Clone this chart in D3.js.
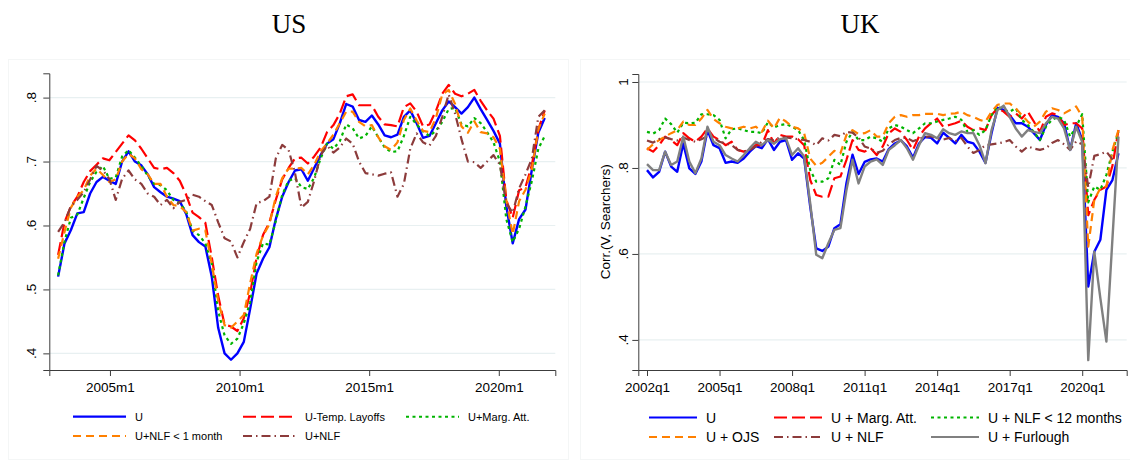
<!DOCTYPE html>
<html>
<head>
<meta charset="utf-8">
<script src="https://cdn.jsdelivr.net/npm/d3@7"></script>
<style>
  body { margin: 0; background: #fff; }
  text { font-family: "Liberation Sans", Arial, sans-serif; fill: #000; }
  .title { font-family: "Liberation Serif", "Times New Roman", serif; font-size: 27px; }
</style>
</head>
<body>
<svg id="chart" width="1130" height="469"></svg>
<script>
// ---- US panel: readings roughly every quarter, starting 2003m1 ----
var usStartYear = 2003;
var usStepYears = 0.247;

var usU = [0.52, 0.572, 0.593, 0.619, 0.621, 0.65, 0.668, 0.676, 0.67, 0.665,
  0.70, 0.716, 0.70, 0.694, 0.68, 0.66, 0.652, 0.645, 0.642, 0.638,
  0.618, 0.585, 0.574, 0.567, 0.52, 0.44, 0.40, 0.39, 0.40, 0.418,
  0.47, 0.525, 0.548, 0.566, 0.61, 0.645, 0.668, 0.686, 0.688, 0.67,
  0.69, 0.71, 0.728, 0.735, 0.76, 0.79, 0.786, 0.765, 0.762, 0.772,
  0.758, 0.741, 0.738, 0.742, 0.77, 0.78, 0.76, 0.737, 0.74, 0.76,
  0.78, 0.794, 0.785, 0.775, 0.785, 0.80, 0.782, 0.765, 0.748, 0.728,
  0.63, 0.572, 0.61, 0.625, 0.688, 0.745, 0.768];

var usTemp = [0.554, 0.605, 0.63, 0.645, 0.668, 0.685, 0.695, 0.705, 0.702, 0.715,
  0.728, 0.741, 0.733, 0.72, 0.705, 0.69, 0.688, 0.69, 0.682, 0.67,
  0.648, 0.62, 0.613, 0.604, 0.55, 0.49, 0.445, 0.442, 0.435, 0.455,
  0.495, 0.55, 0.585, 0.605, 0.64, 0.672, 0.69, 0.705, 0.706, 0.697,
  0.708, 0.722, 0.746, 0.757, 0.775, 0.802, 0.805, 0.788, 0.788, 0.788,
  0.77, 0.758, 0.757, 0.755, 0.785, 0.791, 0.778, 0.755, 0.758, 0.779,
  0.806, 0.82, 0.806, 0.802, 0.806, 0.812, 0.795, 0.78, 0.767, 0.74,
  0.64, 0.612, 0.655, 0.66, 0.695, 0.75, 0.78];

var usMarg = [0.522, 0.575, 0.612, 0.617, 0.643, 0.668, 0.684, 0.693, 0.673, 0.675,
  0.708, 0.718, 0.706, 0.693, 0.678, 0.665, 0.663, 0.655, 0.64, 0.635,
  0.622, 0.592, 0.585, 0.572, 0.54, 0.466, 0.428, 0.415, 0.423, 0.447,
  0.48, 0.543, 0.572, 0.57, 0.607, 0.648, 0.67, 0.674, 0.66, 0.657,
  0.675, 0.705, 0.728, 0.72, 0.732, 0.758, 0.752, 0.736, 0.74, 0.755,
  0.738, 0.722, 0.715, 0.716, 0.74, 0.77, 0.758, 0.747, 0.74, 0.748,
  0.762, 0.782, 0.784, 0.758, 0.755, 0.768, 0.76, 0.746, 0.73, 0.70,
  0.61, 0.574, 0.595, 0.63, 0.67, 0.72, 0.74];

var usNLF1 = [0.548, 0.59, 0.628, 0.645, 0.655, 0.678, 0.689, 0.679, 0.668, 0.672,
  0.70, 0.712, 0.705, 0.688, 0.68, 0.665, 0.665, 0.645, 0.632, 0.63,
  0.621, 0.592, 0.595, 0.592, 0.54, 0.482, 0.444, 0.44, 0.45, 0.46,
  0.51, 0.556, 0.584, 0.602, 0.645, 0.674, 0.689, 0.689, 0.69, 0.68,
  0.695, 0.716, 0.728, 0.742, 0.76, 0.778, 0.778, 0.762, 0.755, 0.757,
  0.738, 0.724, 0.718, 0.73, 0.765, 0.783, 0.764, 0.748, 0.746, 0.768,
  0.805, 0.812, 0.79, 0.755, 0.745, 0.763, 0.746, 0.744, 0.738, 0.72,
  0.64, 0.586, 0.638, 0.656, 0.688, 0.75, 0.775];

var usNLF = [0.59, 0.605, 0.63, 0.64, 0.652, 0.672, 0.693, 0.686, 0.673, 0.64,
  0.673, 0.686, 0.672, 0.665, 0.65, 0.645, 0.632, 0.64, 0.627, 0.637,
  0.64, 0.648, 0.645, 0.638, 0.632, 0.605, 0.58, 0.575, 0.55, 0.574,
  0.595, 0.635, 0.638, 0.645, 0.705, 0.726, 0.718, 0.682, 0.628, 0.637,
  0.67, 0.71, 0.725, 0.714, 0.722, 0.736, 0.728, 0.70, 0.682, 0.68,
  0.678, 0.681, 0.683, 0.645, 0.665, 0.72, 0.744, 0.73, 0.725, 0.74,
  0.77, 0.805, 0.775, 0.735, 0.70, 0.699, 0.69, 0.70, 0.71, 0.695,
  0.635, 0.62, 0.658, 0.68, 0.705, 0.77, 0.78];

var usTicksX = [2005, 2010, 2015, 2020];
var usTicksY = [0.4, 0.5, 0.6, 0.7, 0.8];
var usNames = ["U", "U-Temp. Layoffs", "U+Marg. Att.", "U+NLF < 1 month", "U+NLF"];

// ---- UK panel: quarterly, 2002q1 - 2021q3 ----
var ukStartYear = 2002;

var ukU = [0.795, 0.778, 0.791, 0.838, 0.803, 0.791, 0.857, 0.799, 0.786, 0.815,
  0.888, 0.853, 0.846, 0.812, 0.815, 0.812, 0.822, 0.838, 0.851, 0.846,
  0.867, 0.842, 0.861, 0.865, 0.819, 0.834, 0.822, 0.71, 0.613, 0.607,
  0.617, 0.66, 0.669, 0.765, 0.831, 0.786, 0.814, 0.82, 0.822, 0.815,
  0.844, 0.857, 0.864, 0.85, 0.824, 0.857, 0.872, 0.87, 0.857, 0.882,
  0.87, 0.857, 0.877, 0.861, 0.857, 0.838, 0.812, 0.881, 0.94, 0.935,
  0.923, 0.904, 0.904, 0.896, 0.881, 0.865, 0.9, 0.923, 0.919, 0.904,
  0.842, 0.904, 0.865, 0.524, 0.605, 0.633, 0.749, 0.772, 0.834];

var ukMarg = [0.846, 0.838, 0.853, 0.873, 0.865, 0.853, 0.881, 0.869, 0.861, 0.873,
  0.892, 0.873, 0.865, 0.853, 0.861, 0.842, 0.838, 0.842, 0.853, 0.853,
  0.888, 0.857, 0.877, 0.873, 0.873, 0.867, 0.853, 0.772, 0.737, 0.733,
  0.733, 0.776, 0.78, 0.819, 0.865, 0.842, 0.838, 0.846, 0.83, 0.85,
  0.881, 0.892, 0.884, 0.865, 0.842, 0.873, 0.892, 0.904, 0.915, 0.896,
  0.9, 0.904, 0.91, 0.896, 0.888, 0.892, 0.888, 0.923, 0.939, 0.931,
  0.919, 0.927, 0.915, 0.931, 0.908, 0.884, 0.919, 0.927, 0.923, 0.9,
  0.904, 0.904, 0.892, 0.69, 0.726, 0.749, 0.757, 0.805, 0.888];

var ukNLF12 = [0.884, 0.88, 0.888, 0.915, 0.902, 0.882, 0.905, 0.904, 0.905, 0.925,
  0.925, 0.923, 0.912, 0.869, 0.89, 0.892, 0.888, 0.884, 0.884, 0.881,
  0.906, 0.894, 0.9, 0.902, 0.896, 0.888, 0.865, 0.795, 0.768, 0.768,
  0.776, 0.819, 0.807, 0.861, 0.884, 0.865, 0.865, 0.873, 0.869, 0.861,
  0.892, 0.9, 0.896, 0.888, 0.881, 0.892, 0.904, 0.904, 0.908, 0.912,
  0.915, 0.919, 0.912, 0.884, 0.888, 0.877, 0.888, 0.923, 0.943, 0.935,
  0.931, 0.939, 0.912, 0.9, 0.884, 0.865, 0.896, 0.912, 0.919, 0.912,
  0.873, 0.896, 0.925, 0.72, 0.757, 0.749, 0.784, 0.838, 0.884];

var ukOJS = [0.842, 0.855, 0.865, 0.873, 0.881, 0.888, 0.908, 0.9, 0.9, 0.915,
  0.935, 0.914, 0.904, 0.896, 0.892, 0.892, 0.896, 0.892, 0.896, 0.884,
  0.91, 0.892, 0.917, 0.908, 0.896, 0.892, 0.881, 0.822, 0.805, 0.812,
  0.826, 0.84, 0.834, 0.877, 0.888, 0.879, 0.881, 0.888, 0.873, 0.873,
  0.904, 0.919, 0.923, 0.919, 0.923, 0.923, 0.926, 0.926, 0.926, 0.923,
  0.926, 0.927, 0.931, 0.923, 0.919, 0.912, 0.908, 0.931, 0.947, 0.95,
  0.95, 0.939, 0.923, 0.908, 0.896, 0.908, 0.931, 0.939, 0.935, 0.927,
  0.935, 0.943, 0.919, 0.617, 0.726, 0.753, 0.757, 0.842, 0.888];

var ukNLF = [0.864, 0.859, 0.867, 0.871, 0.867, 0.864, 0.871, 0.865, 0.861, 0.867,
  0.874, 0.871, 0.861, 0.857, 0.853, 0.842, 0.838, 0.842, 0.85, 0.861,
  0.867, 0.865, 0.871, 0.871, 0.869, 0.867, 0.865, 0.861, 0.853, 0.869,
  0.864, 0.877, 0.874, 0.884, 0.882, 0.871, 0.85, 0.845, 0.835, 0.84,
  0.855, 0.865, 0.87, 0.87, 0.862, 0.868, 0.872, 0.874, 0.868, 0.866,
  0.87, 0.862, 0.87, 0.85, 0.835, 0.842, 0.853, 0.855, 0.857, 0.86,
  0.865, 0.85, 0.838, 0.85, 0.845, 0.842, 0.846, 0.858, 0.865, 0.855,
  0.842, 0.862, 0.855, 0.755, 0.828, 0.832, 0.838, 0.82, 0.805];

var ukFurlough = [0.809, 0.795, 0.795, 0.838, 0.807, 0.815, 0.873, 0.815, 0.788, 0.822,
  0.896, 0.861, 0.853, 0.83, 0.822, 0.815, 0.83, 0.846, 0.861, 0.853,
  0.865, 0.857, 0.867, 0.869, 0.83, 0.846, 0.826, 0.718, 0.598, 0.59,
  0.625, 0.656, 0.66, 0.749, 0.819, 0.764, 0.803, 0.815, 0.82, 0.807,
  0.842, 0.853, 0.865, 0.846, 0.819, 0.853, 0.881, 0.877, 0.869, 0.89,
  0.881, 0.877, 0.885, 0.881, 0.881, 0.853, 0.811, 0.888, 0.935, 0.945,
  0.919, 0.892, 0.873, 0.888, 0.884, 0.881, 0.904, 0.919, 0.915, 0.892,
  0.842, 0.896, 0.86, 0.353, 0.605, 0.497, 0.396, 0.635, 0.873];

var ukTicksX = [2002, 2005, 2008, 2011, 2014, 2017, 2020];
var ukTicksY = [0.4, 0.6, 0.8, 1];
var ukNames = ["U", "U + Marg. Att.", "U + NLF < 12 months", "U + OJS", "U + NLF", "U + Furlough"];

//line styles
var styles = {
  solidBlue: { color: "#0000ff", dash: null, width: 2.4 },
  longRed:   { color: "#ff0000", dash: "13,5", width: 2.2 },
  dotGreen:  { color: "#00b400", dash: "3,3.5", width: 2.2 },
  dashOrange:{ color: "#ff8000", dash: "8,5", width: 2.2 },
  dashDot:   { color: "#8c3b3b", dash: "9,4,1.5,4", width: 2.2 },
  solidGray: { color: "#808080", dash: null, width: 2.4 }
};

var svg = d3.select("#chart");

function fmtTick(v) {
  return v === 1 ? "1" : String(v).replace("0.", ".");
}

function drawPanel(cfg) {
  var g = svg.append("g");

  //faint frame of the graph region
  g.append("rect")
    .attr("x", cfg.frame[0]).attr("y", cfg.frame[1])
    .attr("width", cfg.frame[2]).attr("height", cfg.frame[3])
    .attr("fill", "none").attr("stroke", "#f4f6f6").attr("stroke-width", 1);

  g.append("text").attr("class", "title")
    .attr("x", cfg.titleX).attr("y", 33)
    .attr("text-anchor", "middle")
    .text(cfg.title);

  var x = d3.scaleLinear().domain(cfg.xDomain).range([cfg.left, cfg.right]);
  var y = d3.scaleLinear().domain(cfg.yDomain).range([370, cfg.top]);

  // gridlines
  g.selectAll(".grid").data(cfg.yTicks).enter().append("line")
    .attr("x1", cfg.left).attr("x2", cfg.right)
    .attr("y1", function(d) { return y(d); })
    .attr("y2", function(d) { return y(d); })
    .attr("stroke", "#e8f0f1").attr("stroke-width", 1.2);

  // series
  var line = d3.line()
    .x(function(d) { return x(d[0]); })
    .y(function(d) { return y(d[1]); });

  cfg.series.forEach(function(s) {
    var pts = s.values.map(function(v, i) { return [cfg.date(i), v]; });
    g.append("path")
      .datum(pts)
      .attr("d", line)
      .attr("fill", "none")
      .attr("stroke", s.style.color)
      .attr("stroke-width", s.style.width)
      .attr("stroke-dasharray", s.style.dash)
      .attr("stroke-linejoin", "round");
  });

  // axes
  var xAxis = d3.axisBottom(x).tickValues(cfg.xTicks).tickSize(6).tickPadding(6)
    .tickFormat(cfg.xFormat);
  var gx = g.append("g").attr("transform", "translate(0,370)").call(xAxis);
  gx.select(".domain").attr("stroke", "#3c3c3c");
  gx.selectAll(".tick line").attr("stroke", "#3c3c3c");
  gx.selectAll("text").style("font-size", "13.5px")
    .style("font-family", "'Liberation Sans', Arial, sans-serif").attr("fill", "#000");

  var yAxis = d3.axisLeft(y).tickValues(cfg.yTicks).tickSize(6).tickFormat("");
  var gy = g.append("g").attr("transform", "translate(" + cfg.left + ",0)").call(yAxis);
  gy.select(".domain").attr("stroke", "#3c3c3c");
  gy.selectAll(".tick line").attr("stroke", "#3c3c3c");

  g.selectAll(".ylab").data(cfg.yTicks).enter().append("text")
    .attr("transform", function(d) {
      return "translate(" + cfg.yLabelX + "," + y(d) + ") rotate(-90)";
    })
    .attr("text-anchor", "middle")
    .attr("dominant-baseline", "central")
    .style("font-size", "13.5px")
    .text(fmtTick);

  if (cfg.yTitle) {
    g.append("text")
      .attr("transform", "translate(" + cfg.yTitleX + "," + y(cfg.yTitleAt) + ") rotate(-90)")
      .attr("text-anchor", "middle")
      .attr("dominant-baseline", "central")
      .style("font-size", "13.5px")
      .text(cfg.yTitle);
  }

  // legend
  cfg.series.forEach(function(s, i) {
    var col = i % 3, row = Math.floor(i / 3);
    var lx = cfg.legendX[col], ly = cfg.legendY[row];
    g.append("line")
      .attr("x1", lx).attr("x2", lx + cfg.legendLen)
      .attr("y1", ly).attr("y2", ly)
      .attr("stroke", s.style.color)
      .attr("stroke-width", s.style.width - 0.2)
      .attr("stroke-dasharray", s.style.dash);
    g.append("text")
      .attr("x", lx + cfg.legendLen + 9).attr("y", ly)
      .attr("dominant-baseline", "central")
      .style("font-size", cfg.legendFont)
      .text(s.name);
  });
}

drawPanel({
  title: "US", titleX: 289,
  frame: [8.5, 59.5, 560, 400],
  left: 49.3, right: 555.3, top: 73.3,
  xDomain: [2002.66, 2022.18], yDomain: [0.374, 0.838],
  xTicks: usTicksX, yTicks: usTicksY,
  xFormat: function(d) { return d + "m1"; },
  yLabelX: 31.5,
  date: function(i) { return usStartYear + i * usStepYears; },
  series: [
    { name: usNames[0], values: usU, style: styles.solidBlue },
    { name: usNames[1], values: usTemp, style: styles.longRed },
    { name: usNames[2], values: usMarg, style: styles.dotGreen },
    { name: usNames[3], values: usNLF1, style: styles.dashOrange },
    { name: usNames[4], values: usNLF, style: styles.dashDot }
  ],
  legendX: [73, 243, 406], legendY: [416.7, 436], legendLen: 53,
  legendFont: "11px"
});

drawPanel({
  title: "UK", titleX: 860,
  frame: [580.5, 59.5, 560, 400],
  left: 638.3, right: 1126.7, top: 74,
  xDomain: [2001.64, 2021.84], yDomain: [0.330, 1.0186],
  xTicks: ukTicksX, yTicks: ukTicksY,
  xFormat: function(d) { return d + "q1"; },
  yLabelX: 623.3,
  yTitle: "Corr.(V, Searchers)", yTitleX: 605, yTitleAt: 0.675,
  date: function(i) { return ukStartYear + i * 0.25; },
  series: [
    { name: ukNames[0], values: ukU, style: styles.solidBlue },
    { name: ukNames[1], values: ukMarg, style: styles.longRed },
    { name: ukNames[2], values: ukNLF12, style: styles.dotGreen },
    { name: ukNames[3], values: ukOJS, style: styles.dashOrange },
    { name: ukNames[4], values: ukNLF, style: styles.dashDot },
    { name: ukNames[5], values: ukFurlough, style: styles.solidGray }
  ],
  legendX: [649, 774, 931], legendY: [417.5, 437], legendLen: 48,
  legendFont: "14px"
});
</script>
</body>
</html>
